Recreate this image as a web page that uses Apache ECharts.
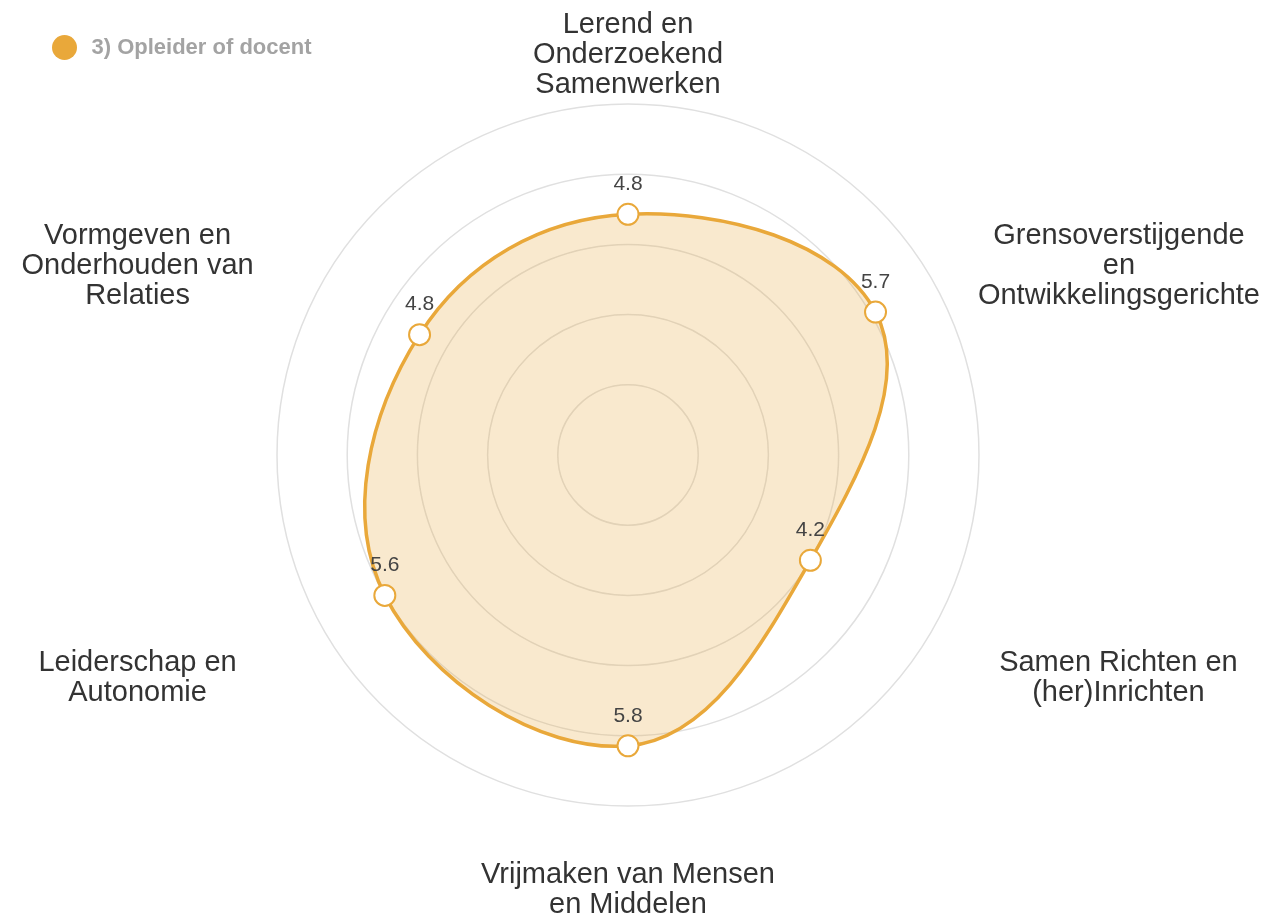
<!DOCTYPE html>
<html>
<head>
<meta charset="utf-8">
<script src="https://cdn.jsdelivr.net/npm/echarts@6/dist/echarts.min.js"></script>
<style>
  html, body { margin: 0; padding: 0; background: #fff; }
  #main { width: 1271px; height: 920px; }
</style>
</head>
<body>
<div id="main"></div>
<script>
// radar goes counter-clockwise from the top, so the order is top, upper-left, lower-left, ...
var seriesName = '3) Opleider of docent'
var indicatorNames = [
  'Lerend en\nOnderzoekend\nSamenwerken',
  'Vormgeven en\nOnderhouden van\nRelaties',
  'Leiderschap en\nAutonomie',
  'Vrijmaken van Mensen\nen Middelen',
  'Samen Richten en\n(her)Inrichten',
  'Grensoverstijgende\nen\nOntwikkelingsgerichte'
]
var scores = [4.8, 4.8, 5.6, 5.8, 4.2, 5.7]
var scaleMax = 7

var orange = '#E9A83A'
var font = 'Liberation Sans, Arial, sans-serif'
var center = [628, 455]
var radius = 351

// spacer box per name: where it goes (top/bottom), its width and height
var nameSpacer = [
  null,
  { at: 'bottom', w: 366, h: 23 },
  { at: 'top', w: 366, h: 90 },
  { at: 'top', w: 0, h: 50 },
  { at: 'top', w: 366, h: 90 },
  { at: 'bottom', w: 367, h: 23 }
]

var rich = {
  c: { align: 'center', fontSize: 29, lineHeight: 30, color: '#333', fontFamily: font }
}
nameSpacer.forEach(function (s, i) {
  if (s) rich['s' + i] = { width: s.w, height: s.h, lineHeight: s.h }
})

var indicators = indicatorNames.map(function (n) {
  return { name: n, min: 0, max: scaleMax }
})
var angles = scores.map(function (v, i) { return i * 360 / scores.length })

var chart = echarts.init(document.getElementById('main'))
chart.setOption({
  animation: false,
  legend: {
    data: [seriesName],
    left: 47,
    top: 30,
    icon: 'circle',
    itemWidth: 44,
    itemHeight: 25,
    textStyle: { fontSize: 22, fontWeight: 'bold', color: '#a3a3a3', fontFamily: font }
  },
  radar: {
    center: center,
    radius: radius,
    startAngle: 90,
    shape: 'circle',
    splitNumber: 5,
    nameGap: 4,
    axisName: {
      fontSize: 29,
      color: '#333',
      fontFamily: font,
      formatter: function (name) {
        var i = indicatorNames.indexOf(name)
        var lines = name.split('\n').map(function (l) { return '{c|' + l + '}' })
        var s = nameSpacer[i]
        if (s) {
          if (s.at === 'top') lines.unshift('{s' + i + '|}')
          else lines.push('{s' + i + '|}')
        }
        return lines.join('\n')
      },
      rich: rich
    },
    axisLine: { show: false },
    splitArea: { show: false },
    splitLine: { lineStyle: { color: '#e0e0e0', width: 1.5 } },
    indicator: indicators
  },
  polar: { center: center, radius: radius },
  angleAxis: {
    type: 'value', min: 0, max: 360, startAngle: 90, clockwise: false,
    axisLine: { show: false }, axisTick: { show: false },
    axisLabel: { show: false }, splitLine: { show: false }
  },
  radiusAxis: {
    type: 'value', min: 0, max: scaleMax,
    axisLine: { show: false }, axisTick: { show: false },
    axisLabel: { show: false }, splitLine: { show: false }
  },
  series: [
    {
      // smooth closed outline + fill
      name: seriesName,
      type: 'custom',
      coordinateSystem: 'polar',
      z: 2,
      silent: true,
      itemStyle: { color: orange },
      data: scores.map(function (v, i) { return [v, angles[i]] }),
      renderItem: function (params, api) {
        if (params.dataIndex !== 0) return
        var pts = scores.map(function (v, i) { return api.coord([v, angles[i]]) })
        return {
          type: 'polygon',
          shape: { points: pts, smooth: 0.4 },
          style: { fill: 'rgba(233,168,58,0.25)', stroke: orange, lineWidth: 3.5 }
        }
      }
    },
    {
      name: seriesName,
      type: 'radar',
      z: 3,
      symbol: 'emptyCircle',
      symbolSize: 21,
      itemStyle: { color: orange, borderWidth: 3.5 },
      lineStyle: { opacity: 0 },
      label: {
        show: true,
        position: 'top',
        distance: 8,
        fontSize: 21,
        color: '#444',
        fontFamily: font
      },
      data: [{ value: scores, name: seriesName }]
    }
  ]
})
</script>
</body>
</html>
